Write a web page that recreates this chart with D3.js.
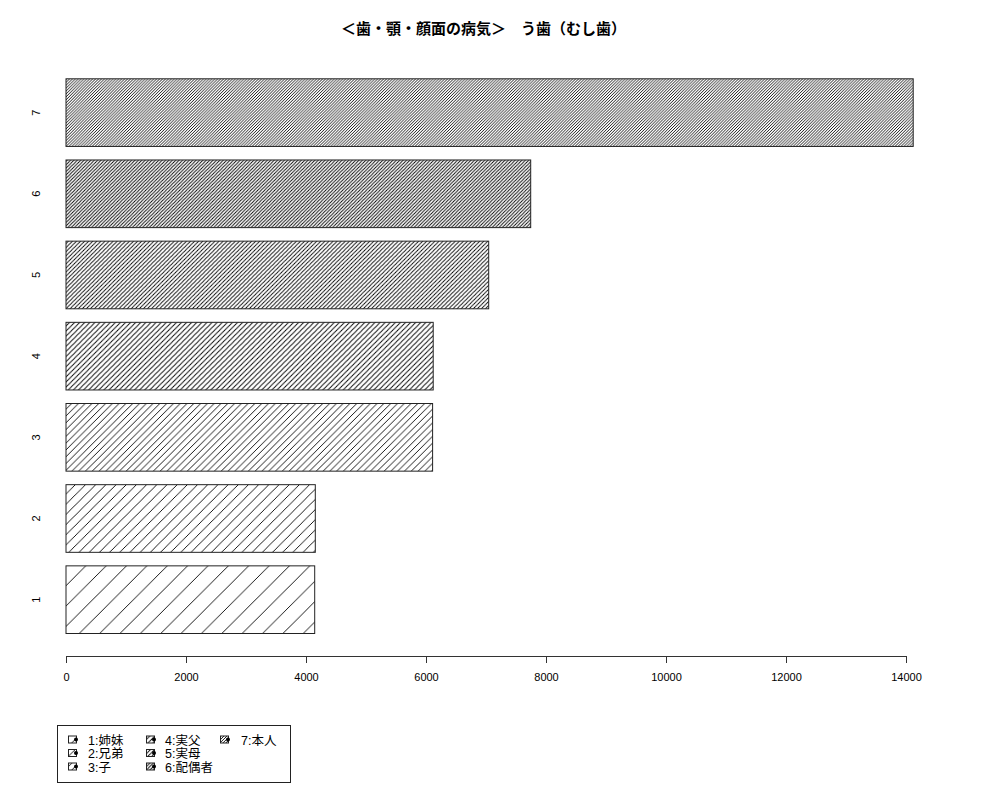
<!DOCTYPE html>
<html>
<head>
<meta charset="utf-8">
<script src="https://cdn.jsdelivr.net/npm/d3@7/dist/d3.min.js"></script>
<style>
  html, body { margin: 0; padding: 0; background: #fff; }
  svg { display: block; }
</style>
</head>
<body>
<script>
// ---- data ----
const categories = ["1", "2", "3", "4", "5", "6", "7"];
const values = [4145, 4155, 6110, 6120, 7045, 7745, 14120];
const densities = [5, 10, 15, 20, 25, 30, 35];
const legendLabels = ["1:姉妹", "2:兄弟", "3:子", "4:実父", "5:実母", "6:配偶者", "7:本人"];
const xTicks = [0, 2000, 4000, 6000, 8000, 10000, 12000, 14000];
const title = "＜歯・顎・顔面の病気＞　う歯（むし歯）";

// ---- layout ----
const W = 1000, H = 800;
const svg = d3.select("body").append("svg").attr("width", W).attr("height", H);
const defs = svg.append("defs");

const x = d3.scaleLinear().domain([0, 14000]).range([66, 906]);
const y = d3.scaleLinear().domain([0.2, 8.4]).range([633.5, 78.8]);

// hatch patterns (R density = lines per inch at 72 dpi, 45 degrees)
densities.forEach((d, i) => {
  const s = (72 / d) * Math.SQRT2;
  const p = defs.append("pattern")
    .attr("id", "hatch" + i)
    .attr("patternUnits", "userSpaceOnUse")
    .attr("width", s).attr("height", s);
  p.append("rect").attr("width", s).attr("height", s).attr("fill", "#fff");
  p.append("path")
    .attr("d", `M${-s / 2},${s / 2} L${s / 2},${-s / 2} M0,${s} L${s},0 M${s / 2},${1.5 * s} L${1.5 * s},${s / 2}`)
    .attr("stroke", "#000").attr("stroke-width", 0.9).attr("fill", "none");
});

const font = "'Liberation Sans', 'Noto Sans CJK JP', sans-serif";

// title
svg.append("text")
  .attr("x", 483.5).attr("y", 34)
  .attr("text-anchor", "middle")
  .attr("font-family", "'Noto Sans CJK JP', sans-serif")
  .attr("font-weight", "bold")
  .attr("font-size", 15)
  .text(title);

// bars
svg.append("g").selectAll("rect")
  .data(values)
  .join("rect")
  .attr("x", x(0))
  .attr("y", (v, i) => y(1.2 + 1.2 * i))
  .attr("width", v => x(v) - x(0))
  .attr("height", (v, i) => y(0.2 + 1.2 * i) - y(1.2 + 1.2 * i))
  .attr("fill", (v, i) => `url(#hatch${i})`)
  .attr("stroke", "#222")
  .attr("stroke-width", 1);

// y labels (rotated)
svg.append("g").selectAll("text")
  .data(categories)
  .join("text")
  .attr("transform", (c, i) => `translate(40,${y(0.7 + 1.2 * i)}) rotate(-90)`)
  .attr("text-anchor", "middle")
  .attr("font-family", font)
  .attr("font-size", 11)
  .text(c => c);

// x axis
const axisG = svg.append("g").attr("transform", "translate(0,656)");
axisG.call(d3.axisBottom(x).tickValues(xTicks).tickSize(7).tickPadding(10).tickFormat(d3.format("d")));
axisG.select(".domain").attr("stroke", "#333");
axisG.selectAll(".tick line").attr("stroke", "#333");
axisG.selectAll(".tick text").attr("font-family", font).attr("font-size", 11).attr("fill", "#000");

// legend
const lg = svg.append("g");
lg.append("rect").attr("x", 57.5).attr("y", 725.5).attr("width", 233).attr("height", 57)
  .attr("fill", "#fff").attr("stroke", "#222").attr("stroke-width", 1);
const colBox = [68, 146, 220];
const colText = [88, 165, 241];
const rowY = [740, 753.5, 767];
legendLabels.forEach((lab, i) => {
  const c = Math.floor(i / 3), r = i % 3;
  const g = lg.append("g");
  g.append("rect").attr("x", colBox[c] + 0.5).attr("y", rowY[r] - 4).attr("width", 8).attr("height", 7)
    .attr("fill", `url(#hatch${i})`).attr("stroke", "#222").attr("stroke-width", 1);
  g.append("circle").attr("cx", colBox[c] + 8).attr("cy", rowY[r] - 0.5).attr("r", 2).attr("fill", "#000");
  g.append("text").attr("x", colText[c]).attr("y", rowY[r] + 4.5)
    .attr("font-family", font).attr("font-size", 12.5)
    .text(lab);
});
</script>
</body>
</html>
